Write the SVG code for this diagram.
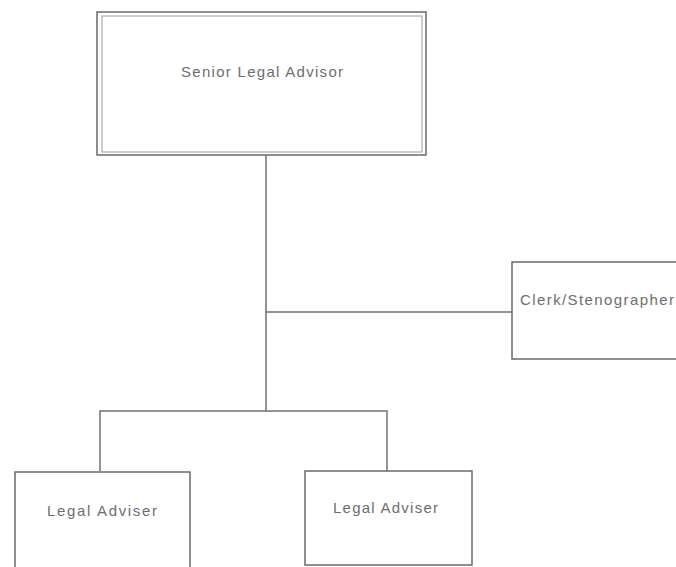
<svg xmlns="http://www.w3.org/2000/svg" width="676" height="567" viewBox="0 0 676 567">
<style>
.box{fill:none;stroke:#6a6a6a;stroke-width:1.5}
.inner{fill:none;stroke:#9a9a9a;stroke-width:1}
.lbl{font-family:"Liberation Sans",Arial,sans-serif;font-size:15px;fill:#6e6e6e}
.conn{fill:none;stroke:#707070;stroke-width:1.5}
</style>
<rect width="676" height="567" fill="#ffffff"/>
<g id="connectors">
<line class="conn" x1="266" y1="155" x2="266" y2="411"/>
<line class="conn" x1="266" y1="312" x2="512" y2="312"/>
<polyline class="conn" points="100,471 100,411 387,411 387,471"/>
</g>
<g id="senior">
<rect class="box" x="97" y="12" width="329" height="143"/>
<rect class="inner" x="102" y="16" width="320" height="136"/>
<text class="lbl" x="181" y="77" textLength="162" lengthAdjust="spacing">Senior Legal Advisor</text>
</g>
<g id="clerk">
<path class="box" d="M680,262 H512 V359 H680"/>
<text class="lbl" x="520" y="305" textLength="154" lengthAdjust="spacing">Clerk/Stenographer</text>
</g>
<g id="adviser1">
<path class="box" d="M15,570 V472 H190 V570"/>
<text class="lbl" x="47" y="516" textLength="110" lengthAdjust="spacing">Legal Adviser</text>
</g>
<g id="adviser2">
<rect class="box" x="305" y="471" width="167" height="94"/>
<text class="lbl" x="333" y="513" textLength="105" lengthAdjust="spacing">Legal Adviser</text>
</g>
</svg>
